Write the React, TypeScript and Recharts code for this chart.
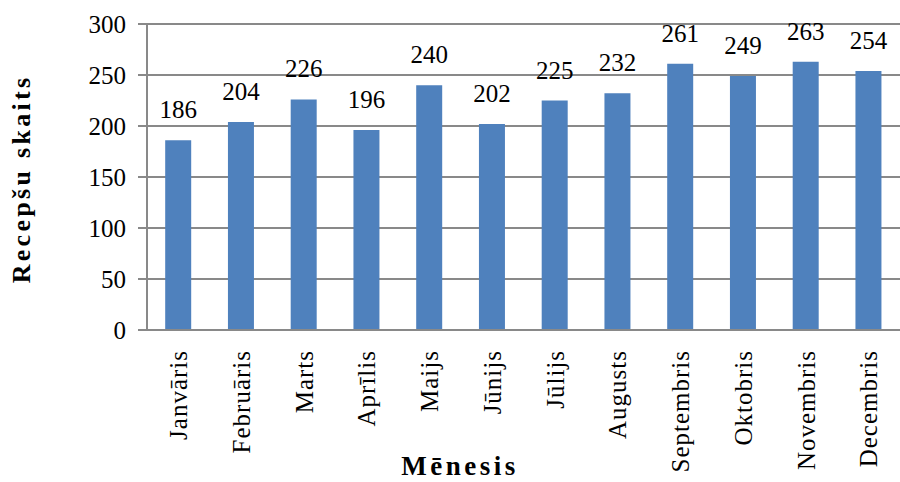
import React from 'react';
import { BarChart, Bar, XAxis, YAxis, CartesianGrid, LabelList, Label } from 'recharts';

const months = [
  'Janvāris', 'Februāris', 'Marts', 'Aprīlis', 'Maijs', 'Jūnijs',
  'Jūlijs', 'Augusts', 'Septembris', 'Oktobris', 'Novembris', 'Decembris',
];
const recipeCounts = [186, 204, 226, 196, 240, 202, 225, 232, 261, 249, 263, 254];
const yTicks = [0, 50, 100, 150, 200, 250, 300];

// boundaries between month categories, used for the tick marks on the x axis
const edgeTicks = [...months.map((_, i) => i), months.length];

const data = months.map((month, i) => ({ month, count: recipeCounts[i] }));

const FONT = '"Liberation Serif", "Times New Roman", serif';
const GRID = '#898989';
const BAR = '#4F81BD';

const MonthTick = ({ x, y, payload }: any) => (
  <text
    x={x}
    y={y}
    transform={`rotate(-90, ${x}, ${y})`}
    textAnchor="end"
    dy="0.35em"
    fill="#000"
    fontSize={25}
    fontFamily={FONT}
    letterSpacing={1}
  >
    {payload.value}
  </text>
);

const YTitle = ({ viewBox }: any) => {
  const cx = 30;
  const cy = viewBox.y + viewBox.height / 2 + 2;
  return (
    <text
      x={cx}
      y={cy}
      transform={`rotate(-90, ${cx}, ${cy})`}
      textAnchor="middle"
      fontSize={26}
      fontWeight="bold"
      fontFamily={FONT}
      letterSpacing={3.3}
      fill="#000"
    >
      Recepšu skaits
    </text>
  );
};

const XTitle = ({ viewBox }: any) => (
  <text
    x={viewBox.x + 313}
    y={viewBox.y + viewBox.height - 7}
    textAnchor="middle"
    fontSize={27}
    fontWeight="bold"
    fontFamily={FONT}
    letterSpacing={3.5}
    fill="#000"
  >
    Mēnesis
  </text>
);

const App = () => {
  return (
    <div style={{ position: 'absolute', left: 0, top: 0, background: '#fff' }}>
      <BarChart
        width={900}
        height={482}
        data={data}
        margin={{ top: 24, right: 0, left: 0, bottom: 0 }}
        barCategoryGap="29%"
      >
        <CartesianGrid vertical={false} stroke={GRID} strokeWidth={2} />
        <XAxis
          type="number"
          domain={[0, months.length]}
          ticks={edgeTicks}
          tick={false}
          tickSize={10}
          height={10}
          axisLine={{ stroke: GRID, strokeWidth: 2 }}
          tickLine={{ stroke: GRID, strokeWidth: 2 }}
        />
        <XAxis
          xAxisId="months"
          dataKey="month"
          interval={0}
          axisLine={false}
          tickLine={false}
          tickSize={0}
          tickMargin={10}
          height={142}
          tick={<MonthTick />}
        >
          <Label content={<XTitle />} />
        </XAxis>
        <YAxis
          width={147}
          domain={[0, 300]}
          ticks={yTicks}
          interval={0}
          tickSize={9}
          tickMargin={12}
          axisLine={{ stroke: GRID, strokeWidth: 2 }}
          tickLine={{ stroke: GRID, strokeWidth: 2 }}
          tick={{ fill: '#000', fontSize: 25, fontFamily: FONT }}
        >
          <Label content={<YTitle />} />
        </YAxis>
        <Bar dataKey="count" xAxisId="months" fill={BAR} isAnimationActive={false}>
          <LabelList
            dataKey="count"
            position="top"
            offset={22}
            fill="#000"
            fontSize={25}
            fontFamily={FONT}
          />
        </Bar>
      </BarChart>
    </div>
  );
};

export default App;
